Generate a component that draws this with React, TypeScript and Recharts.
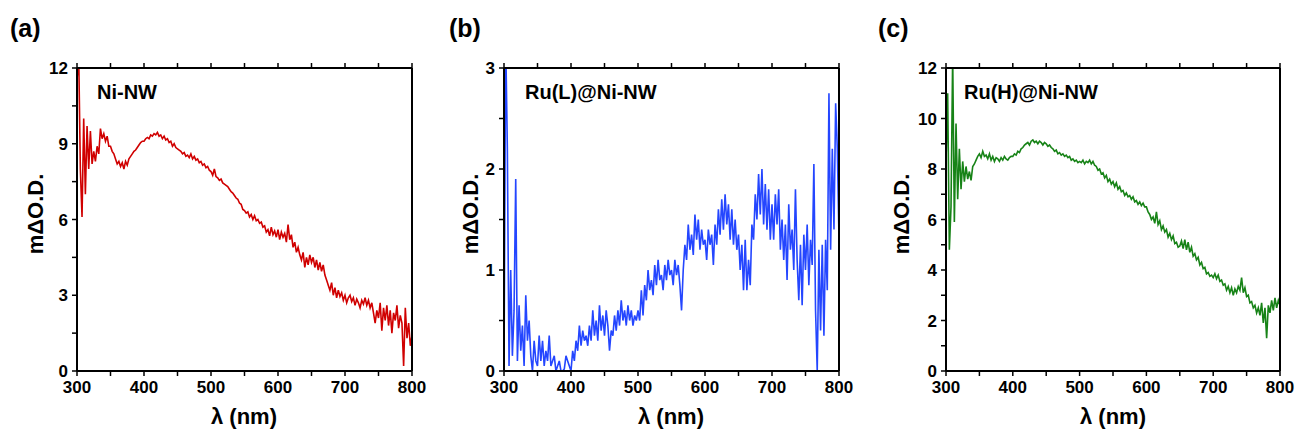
import React from 'react';
import { LineChart, Line, XAxis, YAxis } from 'recharts';

// wavelength grid (nm), 2.5 nm steps, shared by all three spectra
const wavelengths = [
  300, 302.5, 305, 307.5, 310, 312.5, 315, 317.5, 320, 322.5,
  325, 327.5, 330, 332.5, 335, 337.5, 340, 342.5, 345, 347.5,
  350, 352.5, 355, 357.5, 360, 362.5, 365, 367.5, 370, 372.5,
  375, 377.5, 380, 382.5, 385, 387.5, 390, 392.5, 395, 397.5,
  400, 402.5, 405, 407.5, 410, 412.5, 415, 417.5, 420, 422.5,
  425, 427.5, 430, 432.5, 435, 437.5, 440, 442.5, 445, 447.5,
  450, 452.5, 455, 457.5, 460, 462.5, 465, 467.5, 470, 472.5,
  475, 477.5, 480, 482.5, 485, 487.5, 490, 492.5, 495, 497.5,
  500, 502.5, 505, 507.5, 510, 512.5, 515, 517.5, 520, 522.5,
  525, 527.5, 530, 532.5, 535, 537.5, 540, 542.5, 545, 547.5,
  550, 552.5, 555, 557.5, 560, 562.5, 565, 567.5, 570, 572.5,
  575, 577.5, 580, 582.5, 585, 587.5, 590, 592.5, 595, 597.5,
  600, 602.5, 605, 607.5, 610, 612.5, 615, 617.5, 620, 622.5,
  625, 627.5, 630, 632.5, 635, 637.5, 640, 642.5, 645, 647.5,
  650, 652.5, 655, 657.5, 660, 662.5, 665, 667.5, 670, 672.5,
  675, 677.5, 680, 682.5, 685, 687.5, 690, 692.5, 695, 697.5,
  700, 702.5, 705, 707.5, 710, 712.5, 715, 717.5, 720, 722.5,
  725, 727.5, 730, 732.5, 735, 737.5, 740, 742.5, 745, 747.5,
  750, 752.5, 755, 757.5, 760, 762.5, 765, 767.5, 770, 772.5,
  775, 777.5, 780, 782.5, 785, 787.5, 790, 792.5, 795, 797.5,
  800,
];

// (a) Ni-NW, mΔO.D.
const niNW = [
  11.5, 12.6, 8.0, 6.1, 10.0, 7.0, 9.7, 8.0, 9.5, 8.2, 8.7, 8.3, 8.9, 8.6, 9.6, 9.2, 9.4, 9.1, 9.3, 8.9,
  8.9, 8.7, 8.6, 8.4, 8.2, 8.3, 8.1, 8.25, 8.0, 8.3, 8.15, 8.4, 8.5, 8.6, 8.7, 8.75, 8.85, 8.95, 9.05, 9.1,
  9.1, 9.2, 9.25, 9.2, 9.35, 9.3, 9.4, 9.35, 9.45, 9.3, 9.35, 9.2, 9.3, 9.15, 9.2, 9.05, 9.1, 8.9, 9.0, 8.85,
  8.8, 8.75, 8.7, 8.6, 8.65, 8.5, 8.55, 8.45, 8.6, 8.4, 8.5, 8.35, 8.4, 8.25, 8.3, 8.15, 8.2, 8.05, 8.1, 7.95,
  7.9, 7.75, 8.0, 7.7, 7.65, 7.55, 7.6, 7.45, 7.4, 7.35, 7.3, 7.2, 7.1, 7.05, 6.95, 6.85, 6.8, 6.65, 6.6, 6.4,
  6.35, 6.25, 6.3, 6.1, 6.2, 6.0, 6.15, 5.95, 6.0, 5.85, 5.9, 5.7, 5.75, 5.5, 5.6, 5.35, 5.7, 5.4, 5.55, 5.3,
  5.6, 5.2, 5.5, 5.3, 5.45, 5.1, 5.8, 5.2, 5.4, 4.9, 5.1, 4.7, 4.9, 4.6, 4.4, 4.7, 4.1, 4.5, 4.2, 4.6,
  4.3, 4.5, 4.1, 4.4, 4.0, 4.3, 3.95, 4.2, 3.8, 3.6, 3.4, 3.2, 3.5, 3.0, 3.3, 2.9, 3.2, 2.95, 3.1, 2.8,
  3.0, 2.7, 2.9, 3.0, 2.75, 2.9, 2.6, 2.85, 2.7, 2.5, 2.8, 2.65, 2.9, 2.6, 2.8, 2.5, 2.7, 2.3, 1.9, 2.4,
  2.1, 2.7, 1.6, 2.5, 2.0, 2.6, 1.8, 2.4, 1.5, 2.3, 2.0, 2.6, 1.7, 2.2, 1.9, 0.2, 2.5, 1.3, 1.9, 1.0,
  1.4,
];

// (b) Ru(L)@Ni-NW, mΔO.D.
const ruLNiNW = [
  0, 3.3, 2.2, 0.05, 1.0, 0.15, 0.6, 1.9, 0.1, 0.65, 0.2, 0.45, 0.05, 0.75, 0.3, 0.5, 0.15, 0, 0.3, 0.1,
  0.05, 0.35, 0.1, 0.3, 0.05, 0.2, 0.1, 0.35, 0.05, 0.1, 0.15, 0, 0.05, 0.1, 0, 0, 0.02, 0.15, 0.1, 0.05,
  0, 0.2, 0.1, 0.3, 0.2, 0.45, 0.25, 0.4, 0.3, 0.35, 0.25, 0.45, 0.3, 0.6, 0.35, 0.5, 0.3, 0.65, 0.4, 0.55,
  0.35, 0.6, 0.45, 0.2, 0.4, 0.35, 0.55, 0.4, 0.6, 0.45, 0.7, 0.5, 0.6, 0.45, 0.65, 0.5, 0.6, 0.45, 0.55, 0.5,
  0.6, 0.5, 0.8, 0.55, 0.85, 0.7, 1.0, 0.8, 0.9, 0.75, 1.05, 0.85, 1.1, 0.9, 0.95, 0.8, 1.05, 0.9, 1.1, 0.95,
  1.0, 0.85, 1.1, 0.95, 1.05, 0.85, 0.6, 1.0, 1.25, 1.1, 1.45, 1.2, 1.35, 1.15, 1.55, 1.3, 1.5, 1.2, 1.4, 1.25,
  1.3, 1.1, 1.4, 1.25, 1.35, 1.05, 1.45, 1.25, 1.6, 1.35, 1.7, 1.4, 1.75, 1.45, 1.65, 1.3, 1.6, 1.25, 1.5, 1.2,
  1.35, 1.0, 1.25, 0.8, 1.3, 0.8, 1.1, 0.85, 1.45, 1.3, 1.75, 1.5, 1.95, 1.55, 2.0, 1.45, 1.85, 1.4, 1.8, 1.3,
  1.65, 1.3, 1.75, 1.45, 1.8, 1.2, 1.5, 1.1, 1.45, 0.9, 1.65, 1.2, 1.4, 1.0, 1.8, 1.1, 0.7, 1.25, 0.65, 1.35,
  1.0, 1.45, 0.85, 1.3, 1.05, 2.05, 0.6, 0, 1.2, 0.4, 1.25, 0.35, 1.3, 0.8, 2.75, 1.2, 2.2, 1.4, 2.65, 2.2,
  1.3,
];

// (c) Ru(H)@Ni-NW, mΔO.D.
const ruHNiNW = [
  8.3, 11.0, 4.8, 6.5, 12.5, 5.9, 9.8, 6.8, 8.8, 7.2, 8.3, 7.5, 8.1, 7.6, 7.9, 7.55, 8.1, 8.2, 8.35, 8.5,
  8.6, 8.45, 8.7, 8.5, 8.55, 8.4, 8.6, 8.35, 8.5, 8.3, 8.45, 8.4, 8.3, 8.45, 8.35, 8.5, 8.4, 8.35, 8.45, 8.5,
  8.5, 8.6, 8.55, 8.7, 8.65, 8.8, 8.85, 8.95, 9.0, 9.05, 8.95, 9.1, 9.15, 9.05, 9.1, 9.0, 9.1, 9.05, 8.95, 9.05,
  9.0, 8.9, 8.95, 8.85, 8.8, 8.7, 8.75, 8.6, 8.65, 8.55, 8.6, 8.5, 8.55, 8.45, 8.5, 8.35, 8.4, 8.3, 8.35, 8.25,
  8.3, 8.25, 8.35, 8.2, 8.3, 8.25, 8.35, 8.2, 8.3, 8.15, 8.1, 7.95, 8.0, 7.8, 7.85, 7.65, 7.75, 7.5, 7.6, 7.4,
  7.5, 7.3, 7.45, 7.2, 7.3, 7.1, 7.15, 6.95, 7.05, 6.9, 6.95, 6.8, 6.9, 6.7, 6.75, 6.6, 6.7, 6.55, 6.65, 6.5,
  6.5, 6.3, 6.2, 6.0, 6.1, 5.85, 6.3, 5.8, 5.95, 5.6, 5.75, 5.5, 5.6, 5.3, 5.45, 5.2, 5.35, 5.05, 5.1, 4.9,
  4.95, 5.15, 4.85, 5.2, 4.8, 5.1, 4.7, 4.9, 4.55, 4.65, 4.4, 4.5, 4.2, 4.3, 4.05, 4.1, 3.85, 3.9, 3.75, 3.8,
  3.7, 3.85, 3.65, 3.8, 3.55, 3.6, 3.4, 3.45, 3.2, 3.35, 3.1, 3.3, 3.0, 3.25, 3.1, 3.35, 3.2, 3.7, 3.1, 3.3,
  2.95, 3.0, 2.7, 2.75, 2.5, 2.6, 2.3, 2.5, 2.2, 2.7, 1.9, 2.5, 1.3, 2.6, 2.3, 2.8, 2.4, 2.9, 2.5, 2.8,
  2.6,
];

// axis ticks (labelled + minor)
const xTicks = [300, 350, 400, 450, 500, 550, 600, 650, 700, 750, 800];
const xLabels = [300, 400, 500, 600, 700, 800];
const yTicksA = [0, 1.5, 3, 4.5, 6, 7.5, 9, 10.5, 12];
const yLabelsA = [0, 3, 6, 9, 12];
const yTicksB = [0, 0.5, 1, 1.5, 2, 2.5, 3];
const yLabelsB = [0, 1, 2, 3];
const yTicksC = [0, 1, 2, 3, 4, 5, 6, 7, 8, 9, 10, 11, 12];
const yLabelsC = [0, 2, 4, 6, 8, 10, 12];

const FONT = '"Liberation Sans", Arial, sans-serif';

interface PanelProps {
  left: number;
  marginLeft: number;
  marginRight: number;
  values: number[];
  color: string;
  yMax: number;
  yTicks: number[];
  yLabels: number[];
}

const Panel: React.FC<PanelProps> = ({ left, marginLeft, marginRight, values, color, yMax, yTicks, yLabels }) => {
  const data = wavelengths.map((w, i) => ({ w, v: values[i] }));
  const tickStyle = { fill: '#000', fontSize: 17, fontWeight: 700, fontFamily: FONT };
  const axisLine = { stroke: '#000', strokeWidth: 2 };
  const tickLine = { stroke: '#000', strokeWidth: 1.5 };
  return (
    <div style={{ position: 'absolute', left, top: 0 }}>
      <LineChart width={432} height={432} data={data} margin={{ top: 58, right: marginRight, bottom: 21, left: marginLeft }}>
        <XAxis
          xAxisId="bottom"
          dataKey="w"
          type="number"
          domain={[300, 800]}
          ticks={xTicks}
          tickFormatter={(v: number) => (xLabels.includes(v) ? String(v) : '')}
          height={40}
          tickSize={5}
          tickMargin={5}
          axisLine={axisLine}
          tickLine={tickLine}
          tick={tickStyle}
          interval={0}
        />
        <XAxis
          xAxisId="top"
          orientation="top"
          dataKey="w"
          type="number"
          domain={[300, 800]}
          ticks={xTicks}
          tickFormatter={() => ''}
          height={10}
          tickSize={5}
          axisLine={axisLine}
          tickLine={tickLine}
          interval={0}
        />
        <YAxis
          yAxisId="left"
          type="number"
          domain={[0, yMax]}
          allowDataOverflow
          ticks={yTicks}
          tickFormatter={(v: number) => (yLabels.includes(v) ? String(v) : '')}
          width={60}
          tickSize={5}
          tickMargin={4}
          axisLine={axisLine}
          tickLine={tickLine}
          tick={tickStyle}
          interval={0}
        />
        <YAxis
          yAxisId="right"
          orientation="right"
          type="number"
          domain={[0, yMax]}
          width={1}
          tick={false}
          tickLine={false}
          axisLine={axisLine}
        />
        <Line
          xAxisId="bottom"
          yAxisId="left"
          type="linear"
          dataKey="v"
          stroke={color}
          strokeWidth={1.6}
          dot={false}
          isAnimationActive={false}
        />
      </LineChart>
    </div>
  );
};

const panelTitles = ['(a)', '(b)', '(c)'];
const sampleNames = ['Ni-NW', 'Ru(L)@Ni-NW', 'Ru(H)@Ni-NW'];

export default function App() {
  const txt = { fontFamily: FONT, fontWeight: 700, fill: '#000' } as const;
  return (
    <div style={{ position: 'absolute', left: 0, top: 0, width: 1296, height: 432, background: '#fff' }}>
      <Panel left={0} marginLeft={17} marginRight={19} values={niNW} color="#d00000" yMax={12} yTicks={yTicksA} yLabels={yLabelsA} />
      <Panel left={432} marginLeft={12} marginRight={24} values={ruLNiNW} color="#2446ff" yMax={3} yTicks={yTicksB} yLabels={yLabelsB} />
      <Panel left={864} marginLeft={22} marginRight={15} values={ruHNiNW} color="#178317" yMax={12} yTicks={yTicksC} yLabels={yLabelsC} />
      <svg width={1296} height={432} style={{ position: 'absolute', left: 0, top: 0, pointerEvents: 'none' }}>
        <text x={10} y={37} fontSize={25} {...txt}>{panelTitles[0]}</text>
        <text x={449} y={37} fontSize={25} {...txt}>{panelTitles[1]}</text>
        <text x={878} y={37} fontSize={25} {...txt}>{panelTitles[2]}</text>

        <text x={97} y={99} fontSize={20} {...txt}>{sampleNames[0]}</text>
        <text x={525} y={99} fontSize={20} {...txt}>{sampleNames[1]}</text>
        <text x={964} y={99} fontSize={20} {...txt}>{sampleNames[2]}</text>

        {[35, 470, 901].map((cx) => (
          <text key={cx} x={cx} y={214} fontSize={22} textAnchor="middle" dominantBaseline="central" transform={`rotate(-90 ${cx} 214)`} {...txt}>
            mΔO.D.
          </text>
        ))}
        {[244, 671, 1113].map((cx) => (
          <text key={cx} x={cx} y={424} fontSize={22} textAnchor="middle" {...txt}>
            λ (nm)
          </text>
        ))}
      </svg>
    </div>
  );
}
